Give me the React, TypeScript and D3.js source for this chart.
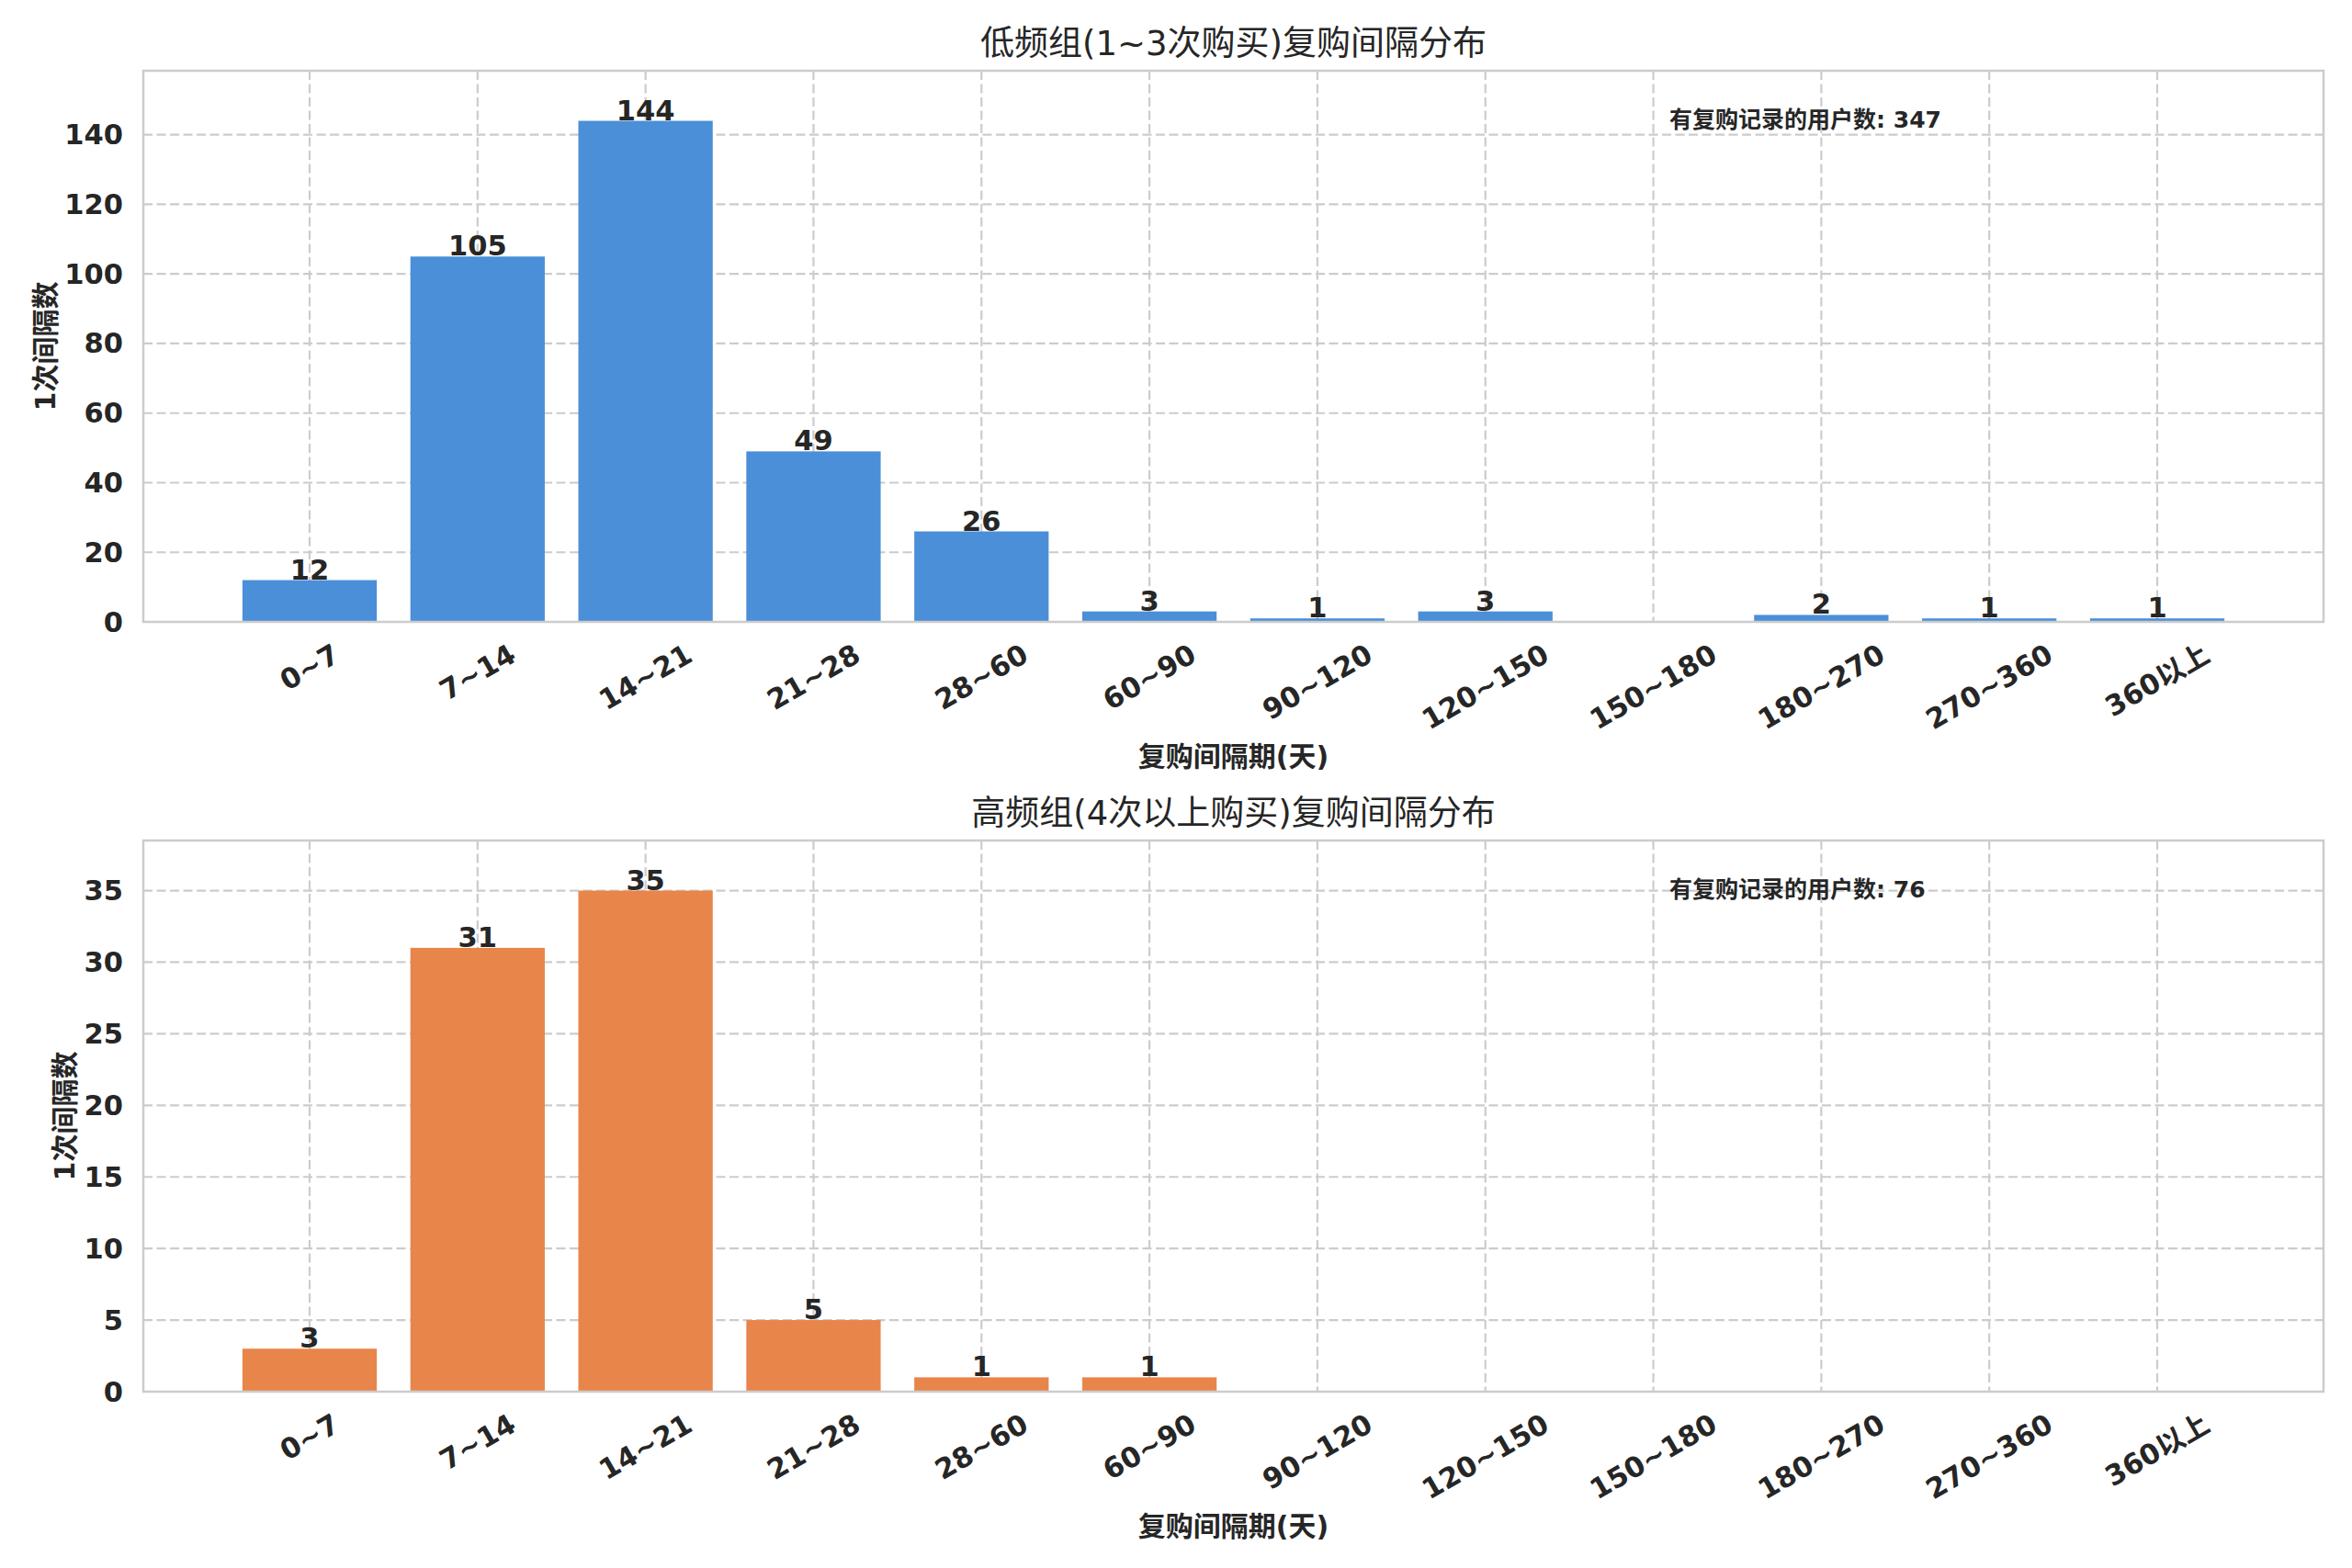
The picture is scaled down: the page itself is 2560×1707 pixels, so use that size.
import { useEffect, useRef } from "react";
import * as d3 from "d3";

// interval buckets (days)
const categories = [
    "0~7", "7~14", "14~21", "21~28", "28~60", "60~90",
    "90~120", "120~150", "150~180", "180~270", "270~360", "360以上",
];

const lowFreqValues = [12, 105, 144, 49, 26, 3, 1, 3, 0, 2, 1, 1];
const highFreqValues = [3, 31, 35, 5, 1, 1, 0, 0, 0, 0, 0, 0];

const lowFreqTicks = [0, 20, 40, 60, 80, 100, 120, 140];
const highFreqTicks = [0, 5, 10, 15, 20, 25, 30, 35];

const titles = ["低频组(1~3次购买)复购间隔分布", "高频组(4次以上购买)复购间隔分布"];
const notes = ["有复购记录的用户数: 347", "有复购记录的用户数: 76"];
const xLabel = "复购间隔期(天)";
const yLabel = "1次间隔数";

const WIDTH = 2560;
const HEIGHT = 1707;
const LEFT = 156;
const RIGHT = 2529;
const PANEL_H = 600;
const PANEL_TOPS = [77, 915];
const FONT = "'DejaVu Sans', 'Noto Sans CJK SC', sans-serif";
const TEXT = "#262626";
const GRID = "#cccccc";

const App = () => {
    const svgRef = useRef<SVGSVGElement>(null);

    useEffect(() => {
        document.body.style.margin = "0";
        if (!svgRef.current) return;
        const svg = d3.select(svgRef.current);
        svg.selectAll("*").remove();

        const drawPanel = (top: number, values: number[], ticks: number[], color: string, title: string, note: string) => {
            const x = d3.scaleLinear().domain([-0.99, categories.length - 0.01]).range([LEFT, RIGHT]);
            const y = d3.scaleLinear().domain([0, (d3.max(values) || 1) * 1.1]).range([top + PANEL_H, top]);
            const g = svg.append("g");

            // grid
            ticks.forEach((t) => {
                g.append("line")
                    .attr("x1", LEFT).attr("x2", RIGHT)
                    .attr("y1", y(t)).attr("y2", y(t))
                    .attr("stroke", GRID).attr("stroke-width", 2.2)
                    .attr("stroke-dasharray", "10,4.5");
            });
            categories.forEach((_, i) => {
                g.append("line")
                    .attr("x1", x(i)).attr("x2", x(i))
                    .attr("y1", top).attr("y2", top + PANEL_H)
                    .attr("stroke", GRID).attr("stroke-width", 2.2)
                    .attr("stroke-dasharray", "10,4.5");
            });

            // bars
            g.selectAll(".bar")
                .data(values)
                .enter()
                .append("rect")
                .attr("class", "bar")
                .attr("x", (_, i) => x(i - 0.4))
                .attr("width", x(0.4) - x(-0.4))
                .attr("y", (d) => y(d))
                .attr("height", (d) => y(0) - y(d))
                .attr("fill", color);

            // value labels
            g.selectAll(".val")
                .data(values)
                .enter()
                .append("text")
                .attr("class", "val")
                .attr("x", (_, i) => x(i))
                .attr("y", (d) => y(d) - 1)
                .attr("text-anchor", "middle")
                .attr("font-family", FONT)
                .attr("font-weight", "bold")
                .attr("font-size", 30.5)
                .attr("fill", TEXT)
                .text((d) => (d > 0 ? String(d) : ""));

            // spines
            g.append("rect")
                .attr("x", LEFT).attr("y", top)
                .attr("width", RIGHT - LEFT).attr("height", PANEL_H)
                .attr("fill", "none").attr("stroke", "#cccccc").attr("stroke-width", 2.5);

            // y tick labels
            let maxW = 0;
            ticks.forEach((t) => {
                const tx = g.append("text")
                    .attr("x", LEFT - 22).attr("y", y(t))
                    .attr("text-anchor", "end")
                    .attr("dominant-baseline", "central")
                    .attr("font-family", FONT).attr("font-weight", "bold")
                    .attr("font-size", 30.5).attr("fill", TEXT)
                    .text(String(t));
                maxW = Math.max(maxW, (tx.node() as SVGTextElement).getComputedTextLength());
            });

            // x tick labels, rotated 30deg, bbox centred under tick
            const bottom = top + PANEL_H;
            categories.forEach((c, i) => {
                const tx = g.append("text")
                    .attr("text-anchor", "middle")
                    .attr("dominant-baseline", "central")
                    .attr("font-family", FONT).attr("font-weight", "bold")
                    .attr("font-size", 30.5).attr("fill", TEXT)
                    .text(c);
                const w = (tx.node() as SVGTextElement).getComputedTextLength();
                const rh = w * 0.5 + 30.5 * 1.17 * 0.866;
                tx.attr("transform", `translate(${x(i)},${bottom + 17 + rh / 2}) rotate(-30)`);
            });

            // axis labels
            g.append("text")
                .attr("x", (LEFT + RIGHT) / 2).attr("y", bottom + 146)
                .attr("text-anchor", "middle").attr("dominant-baseline", "central")
                .attr("font-family", FONT).attr("font-weight", "bold")
                .attr("font-size", 30).attr("fill", TEXT)
                .text(xLabel);

            const ylx = LEFT - 22 - maxW - 21;
            g.append("text")
                .attr("transform", `translate(${ylx},${top + PANEL_H / 2}) rotate(-90)`)
                .attr("text-anchor", "middle").attr("dominant-baseline", "central")
                .attr("font-family", FONT).attr("font-weight", "bold")
                .attr("font-size", 30).attr("fill", TEXT)
                .text(yLabel);

            // title
            g.append("text")
                .attr("x", (LEFT + RIGHT) / 2).attr("y", top - 17)
                .attr("text-anchor", "middle")
                .attr("font-family", FONT)
                .attr("font-size", 37).attr("fill", TEXT)
                .text(title);

            // note
            g.append("text")
                .attr("x", LEFT + (RIGHT - LEFT) * 0.7).attr("y", top + 62)
                .attr("font-family", FONT).attr("font-weight", "bold")
                .attr("font-size", 25).attr("fill", TEXT)
                .text(note);
        };

        drawPanel(PANEL_TOPS[0], lowFreqValues, lowFreqTicks, "#4a8fd8", titles[0], notes[0]);
        drawPanel(PANEL_TOPS[1], highFreqValues, highFreqTicks, "#e8854a", titles[1], notes[1]);
    }, []);

    return (
        <svg
            ref={svgRef}
            width={WIDTH}
            height={HEIGHT}
            style={{ display: "block", background: "#fff" }}
        />
    );
};

export default App;
